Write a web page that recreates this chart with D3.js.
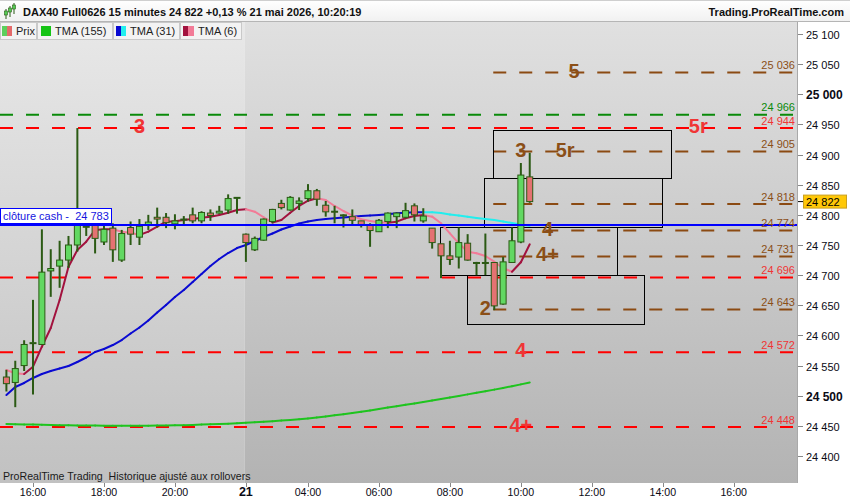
<!DOCTYPE html>
<html><head><meta charset="utf-8">
<script src="https://cdn.jsdelivr.net/npm/d3@7"></script>
<style>body{margin:0;background:#fff}svg{display:block;font-family:"Liberation Sans",Arial,sans-serif}</style>
</head><body><svg id="c" width="850" height="500"></svg>
<script>
// ---------- DATA ----------
const sessions = [{day:"20", start:"15:15", end:"21:45"}, {day:"21", start:"02:15", end:"18:00"}];
const opens  = [24531,24522,24550,24587,24585,24707,24715,24725,24750,24781,24783,24755,24778,24725,24779,24763,24783,24796,24796,24785,24792,24800,24790,24803,24803,24808,24828,
                24768,24742,24758,24789,24819,24808,24819,24827,24840,24816,24806,24800,24797,24790,24783,24772,24789,24797,24796,24815,24790,24778,24752,24732,24730,24753,24721,24721,24721,24652,24721,24755,24863];
const highs  = [24543,24558,24592,24659,24776,24743,24757,24765,24944,24785,24786,24788,24786,24775,24789,24793,24800,24812,24803,24801,24798,24812,24806,24809,24815,24834,24829,
                24769,24764,24794,24810,24825,24831,24829,24851,24843,24823,24815,24801,24809,24790,24786,24793,24804,24804,24820,24819,24811,24778,24752,24757,24779,24768,24722,24769,24721,24730,24779,24886,24903];
const lows   = [24507,24481,24541,24502,24584,24664,24679,24712,24739,24765,24736,24750,24722,24722,24750,24750,24775,24779,24778,24776,24784,24786,24786,24790,24802,24802,24802,
                24722,24740,24757,24786,24809,24807,24808,24822,24815,24797,24786,24779,24783,24779,24747,24772,24778,24778,24794,24789,24787,24744,24695,24717,24711,24724,24700,24700,24642,24651,24721,24753,24820];
const closes = [24520,24545,24585,24588,24705,24711,24725,24750,24783,24780,24761,24776,24742,24769,24768,24781,24788,24793,24787,24790,24793,24790,24804,24799,24806,24827,24829,
                24754,24761,24793,24809,24812,24829,24823,24840,24826,24805,24805,24799,24791,24784,24774,24791,24803,24803,24807,24800,24798,24754,24732,24726,24754,24725,24720,24720,24649,24722,24757,24866,24822];
const tma6   = [24542.6,24537.2,24536.0,24548.1,24581.3,24612.3,24658.8,24714.0,24741.7,24755.5,24774.9,24776.0,24776.0,24772.1,24770.4,24766.6,24772.1,24780.4,24788.7,24789.5,24791.5,24793.1,24795.3,24797.0,24799.8,24803.6,24808.1,
                24809.2,24805.2,24796.0,24787.3,24791.5,24803.6,24814.7,24823.5,24827.5,24824.7,24814.7,24806.4,24798.6,24792.6,24789.8,24787.7,24787.0,24788.7,24794.3,24798.1,24799.8,24797.0,24786.0,24769.4,24752.8,24738.9,24736.2,24731.8,24722.3,24711.4,24705.7,24721.3,24751.2];
const tma31  = [24501.2,24514.4,24521.1,24529.4,24536.0,24541.0,24545.1,24549.3,24555.9,24563.4,24572.5,24577.5,24584.1,24592.4,24603.2,24613.1,24624.8,24638.0,24650.5,24663.7,24675.4,24688.6,24701.9,24715.2,24726.8,24736.7,24745.0,
                24750.0,24756.6,24763.3,24769.1,24775.7,24780.7,24785.7,24789.0,24791.5,24793.1,24794.3,24795.6,24797.0,24798.1,24798.9,24799.8,24801.1,24802.6,24803.4,24804.2,24804.5,24804.3,24803.1,24800.6,24798.9,24796.8,24794.8,24793.1,24791.5,24789.0,24786.5,24784.0,24782.0];
const tma155 = [24453.1,24452.7,24452.4,24452.1,24451.7,24451.4,24451.1,24450.9,24450.7,24450.6,24450.4,24450.2,24450.1,24450.1,24450.1,24450.1,24450.2,24450.4,24450.6,24450.9,24451.2,24451.6,24452.1,24452.6,24453.1,24453.7,24454.4,
                24455.0,24455.9,24456.7,24457.7,24458.7,24459.7,24461.0,24462.4,24464.0,24465.7,24467.7,24469.3,24471.3,24473.3,24475.6,24478.0,24480.3,24482.6,24484.9,24487.2,24489.6,24492.1,24494.5,24497.0,24499.5,24502.2,24504.8,24507.5,24510.1,24512.8,24515.8,24518.8,24521.9];
const yTicks = [24400,24450,24500,24550,24600,24650,24700,24750,24800,24850,24900,24950,25000,25050,25100];
const yTicksBold = [24500,25000];
const xTickKeys   = ["20 16:00","20 18:00","20 20:00","21 02:15","21 04:00","21 06:00","21 08:00","21 10:00","21 12:00","21 14:00","21 16:00"];
const xTickLabels = ["16:00","18:00","20:00","21","04:00","06:00","08:00","10:00","12:00","14:00","16:00"];
const levelPrices = [25036,24966,24944,24905,24818,24774,24731,24696,24643,24572,24448];
const levelKinds  = ["zone","high","res","zone","zone","zone","zone","res","zone","res","res"];
const levelStarts = ["21 09:15",null,null,"21 09:15","21 09:15","21 09:15","21 09:15",null,"21 09:15",null,null];
const annTexts  = ["5","3","5r","3","5r","4","4+","2","4","4+"];
const annPrices = [25036,24944,24944,24905,24905,24774,24731,24643,24572,24448];
const annTimes  = ["21 11:30","20 19:00","21 15:00","21 10:00","21 11:15","21 10:45","21 10:45","21 09:00","21 10:00","21 10:00"];
const annKinds  = ["zone","res","res","zone","zone","zone","zone","zone","res","res"];
const boxStarts = ["21 09:15","21 09:00","21 07:45","21 08:30"];
const boxEnds   = ["21 14:15","21 14:00","21 12:45","21 13:30"];
const boxTops   = [24941,24861,24780,24700];
const boxBottoms= [24861,24780,24700,24619];
const cashClose = 24783;
const lastPrice = 24822;
const title = "DAX40 Full0626 15 minutes 24 822 +0,13 % 21 mai 2026, 10:20:19";
const legendNames = ["Prix","TMA (155)","TMA (31)","TMA (6)"];

// ---------- HELPERS ----------
const pad = n => String(n).padStart(2,"0");
const slots = [];
sessions.forEach(s => {
  let [h,m] = s.start.split(":").map(Number);
  const [eh,em] = s.end.split(":").map(Number);
  while (h*60+m <= eh*60+em) { slots.push(s.day+" "+pad(h)+":"+pad(m)); m += 15; if (m >= 60) { m -= 60; h++; } }
});
const candles = opens.map((o,i)=>({key:slots[i], o, h:highs[i], l:lows[i], c:closes[i]}));
const fmt = d3.formatLocale({decimal:",", thousands:" ", grouping:[3], currency:["",""]}).format(",d");

const W=850, H=500, pL=0, pR=797, pT=22, pB=483;
const step = 8.87;
const x = d3.scalePoint().domain(slots).range([6.4, 6.4 + (slots.length-1)*step]);
const y = d3.scaleLinear().domain([24400,25100]).range([456,34]);

const svg = d3.select("#c");
const defs = svg.append("defs");
function grad(id, c1, c2){
  const g = defs.append("linearGradient").attr("id",id).attr("x1",0).attr("y1",0).attr("x2",0).attr("y2",1);
  g.append("stop").attr("offset","0%").attr("stop-color",c1);
  g.append("stop").attr("offset","100%").attr("stop-color",c2);
}
grad("bgL","#e8e8e8","#c1c1c1");
grad("bgR","#e0e0e0","#b3b3b3");
grad("hdr","#ffffff","#f1f1f1");
defs.append("clipPath").attr("id","plot").append("rect").attr("x",pL).attr("y",pT).attr("width",pR-pL).attr("height",pB-pT);

const dayBreak = x("21 02:15") - 1.5;
svg.append("rect").attr("x",0).attr("y",0).attr("width",W).attr("height",H).attr("fill","#fff");
svg.append("rect").attr("x",pL).attr("y",pT).attr("width",dayBreak-pL).attr("height",pB-pT).attr("fill","url(#bgL)");
svg.append("rect").attr("x",dayBreak).attr("y",pT).attr("width",pR-dayBreak).attr("height",pB-pT).attr("fill","url(#bgR)");

const plot = svg.append("g").attr("clip-path","url(#plot)");
const kindColor = {zone:"#8b4a12", high:"#0a8a0a", res:"#ff0000"};
const kindText  = {zone:"#8b4f17", high:"#0a8a0a", res:"#f03535"};

// level lines
levelPrices.forEach((p,i)=>{
  const x1 = levelStarts[i] ? x(levelStarts[i]) - 1 : pL;
  plot.append("line").attr("x1",x1).attr("x2",pR).attr("y1",y(p)).attr("y2",y(p))
    .attr("stroke",kindColor[levelKinds[i]]).attr("stroke-width",2).attr("stroke-dasharray","13,13");
});
// boxes
boxStarts.forEach((s,i)=>{
  const x1 = Math.round(x(s)-1)+0.5, x2 = Math.round(x(boxEnds[i])-1)+0.5;
  const y1 = Math.round(y(boxTops[i]))+0.5, y2 = Math.round(y(boxBottoms[i]))+0.5;
  plot.append("rect").attr("x",x1).attr("y",y1).attr("width",x2-x1).attr("height",y2-y1)
    .attr("fill","none").attr("stroke","#000").attr("stroke-width",1);
});
// moving averages
function maLine(vals, upColor, downColor, w){
  for (let i=0;i<vals.length-1;i++){
    plot.append("line").attr("x1",x(slots[i])).attr("y1",y(vals[i])).attr("x2",x(slots[i+1])).attr("y2",y(vals[i+1]))
      .attr("stroke", vals[i+1] >= vals[i] ? upColor : downColor).attr("stroke-width",w).attr("stroke-linecap","round");
  }
}
maLine(tma155, "#1ec41e", "#1ec41e", 2);
maLine(tma31, "#0a0ad2", "#22eeee", 2);
maLine(tma6, "#a2123e", "#f27b97", 2);

// candles
const cg = plot.append("g");
candles.forEach(d=>{
  const cx = x(d.key);
  cg.append("line").attr("x1",cx).attr("x2",cx).attr("y1",y(d.h)).attr("y2",y(d.l)).attr("stroke","#2b5a14").attr("stroke-width",2);
  const yt = y(Math.max(d.o,d.c)), yb = y(Math.min(d.o,d.c));
  cg.append("rect").attr("x",cx-3).attr("y",yt).attr("width",6).attr("height",Math.max(1,yb-yt))
    .attr("fill", d.c >= d.o ? "#62d862" : "#e47272").attr("stroke","#2b5a14").attr("stroke-width",1);
});

// cash close line
plot.append("line").attr("x1",pL).attr("x2",pR).attr("y1",y(cashClose)).attr("y2",y(cashClose)).attr("stroke","#0000ff").attr("stroke-width",2);

// annotations
annTexts.forEach((t,i)=>{
  plot.append("text").attr("x",x(annTimes[i])).attr("y",y(annPrices[i])+5).attr("text-anchor","middle")
    .attr("font-size",20).attr("font-weight","bold").attr("fill",kindText[annKinds[i]]).text(t);
});
// right value labels
levelPrices.forEach((p,i)=>{
  plot.append("text").attr("x",795).attr("y",y(p)-3.5).attr("text-anchor","end").attr("font-size",11)
    .attr("fill",kindText[levelKinds[i]]).text(fmt(p));
});

// cash label box
const cy = y(cashClose);
svg.append("rect").attr("x",0.5).attr("y",Math.round(cy)-16.5).attr("width",111).attr("height",15).attr("fill","#fff").attr("stroke","#0000ff").attr("stroke-width",1);
svg.append("text").attr("x",3).attr("y",Math.round(cy)-5).attr("font-size",11).attr("fill","#1515e0").style("white-space","pre").text("clôture cash -  " + fmt(cashClose));

// bottom caption
svg.append("text").attr("x",3).attr("y",480).attr("font-size",10.6).attr("fill","#1a1a1a").style("white-space","pre").text("ProRealTime Trading  Historique ajusté aux rollovers");

// plot border right
svg.append("line").attr("x1",pR+0.5).attr("x2",pR+0.5).attr("y1",pT).attr("y2",pB).attr("stroke","#a9a9a9");

// y axis
const ya = svg.append("g");
yTicks.forEach(v=>{
  const yy = Math.round(y(v))+0.5;
  ya.append("line").attr("x1",798).attr("x2",803).attr("y1",yy).attr("y2",yy).attr("stroke","#888");
  const b = yTicksBold.includes(v);
  ya.append("text").attr("x",806).attr("y",yy+4).attr("font-size",b?12:11).attr("font-weight",b?"bold":"normal").attr("fill","#0a0a14").text(fmt(v));
});
// last price tag
const ly = y(lastPrice);
ya.append("line").attr("x1",798).attr("x2",803).attr("y1",ly).attr("y2",ly).attr("stroke","#000");
ya.append("rect").attr("x",803.5).attr("y",ly-6.5).attr("width",43).attr("height",13).attr("fill","#ffc807").attr("stroke","#c9a020");
ya.append("text").attr("x",806).attr("y",ly+4).attr("font-size",11).attr("fill","#000").text(fmt(lastPrice));

// x axis
xTickKeys.forEach((k,i)=>{
  const xx = Math.round(x(k))+0.5;
  svg.append("line").attr("x1",xx).attr("x2",xx).attr("y1",pB).attr("y2",pB+4).attr("stroke","#888");
  const b = xTickLabels[i] === "21";
  svg.append("text").attr("x",x(k)).attr("y",496).attr("text-anchor","middle").attr("font-size",b?12.5:10.6)
    .attr("font-weight",b?"bold":"normal").attr("fill","#0a0a14").text(xTickLabels[i]);
});

// header
svg.append("rect").attr("x",0).attr("y",0).attr("width",W).attr("height",21).attr("fill","url(#hdr)");
svg.append("line").attr("x1",0).attr("x2",W).attr("y1",0.5).attr("y2",0.5).attr("stroke","#cfcfcf");
svg.append("line").attr("x1",0).attr("x2",W).attr("y1",21.5).attr("y2",21.5).attr("stroke","#b5b5b5");
// icon
[[6,9,16,11,15],[10,6,14,8,12],[14,3,11,5,9]].forEach(([ix,t,b,bt,bb])=>{
  svg.append("line").attr("x1",ix).attr("x2",ix).attr("y1",t).attr("y2",b+3).attr("stroke","#2b5a14").attr("stroke-width",1);
  svg.append("rect").attr("x",ix-1.5).attr("y",bt).attr("width",3).attr("height",bb-bt).attr("fill","#55cc55").attr("stroke","#2b5a14").attr("stroke-width",0.6);
});
svg.append("text").attr("x",23).attr("y",16).attr("font-size",11).attr("font-weight","bold").attr("fill","#111").text(title);
svg.append("text").attr("x",844).attr("y",16).attr("text-anchor","end").attr("font-size",11).attr("font-weight","bold").attr("fill","#111").text("Trading.ProRealTime.com");

// legend
const cellX = [0,37,113,180,242];
const swatches = [[["#5ccf5c",2,5],["#e46a6a",7,5]],[["#16c416",41,10]],[["#0a0ad2",116,5],["#22eeee",121,5]],[["#a2123e",183,5],["#f27b97",188,6]]];
legendNames.forEach((n,i)=>{
  svg.append("rect").attr("x",cellX[i]+0.5).attr("y",22.5).attr("width",cellX[i+1]-cellX[i]-1).attr("height",17).attr("fill","#f3f3f3").attr("stroke","#c9c9c9");
  swatches[i].forEach(([c,sx,sw])=> svg.append("rect").attr("x",sx).attr("y",26).attr("width",sw).attr("height",10).attr("fill",c));
  svg.append("text").attr("x",swatches[i][swatches[i].length-1][1]+swatches[i][swatches[i].length-1][2]+4).attr("y",35).attr("font-size",11).attr("fill","#222").text(n);
});
</script></body></html>
